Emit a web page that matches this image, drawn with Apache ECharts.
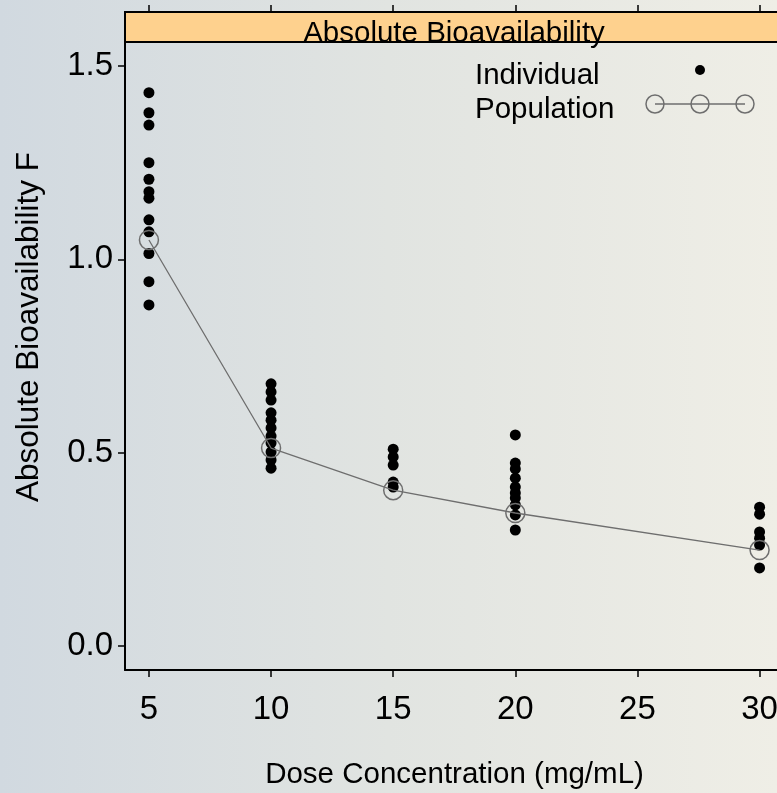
<!DOCTYPE html>
<html>
<head>
<meta charset="utf-8">
<script src="https://cdn.jsdelivr.net/npm/echarts@6/dist/echarts.min.js"></script>
<style>
  html, body { margin: 0; padding: 0; }
  #chart { width: 777px; height: 793px; }
</style>
</head>
<body>
<div id="chart"></div>
<script>
// dose levels (mg/mL) and the individual estimates
const doses = [5, 10, 15, 20, 30];
const indiv5 = [1.431, 1.379, 1.347, 1.250, 1.207, 1.175, 1.158, 1.102, 1.071, 1.015, 0.942, 0.882];
const indiv10 = [0.678, 0.657, 0.636, 0.603, 0.584, 0.564, 0.543, 0.525, 0.502, 0.481, 0.460];
const indiv15 = [0.509, 0.489, 0.468, 0.424, 0.411];
const indiv20 = [0.546, 0.473, 0.458, 0.434, 0.411, 0.396, 0.383, 0.365, 0.339, 0.300];
const indiv30 = [0.359, 0.341, 0.295, 0.279, 0.261, 0.202];
const population = [1.05, 0.512, 0.403, 0.344, 0.248];

const xTicks = [5, 10, 15, 20, 25, 30];
const yTicks = [0, 0.5, 1.0, 1.5];

const stripTitle = 'Absolute Bioavailability';
const font = 'Liberation Sans, Arial, sans-serif';
const grey = '#6e6e6e';

let individual = [];
[indiv5, indiv10, indiv15, indiv20, indiv30].forEach((arr, i)=> {
	arr.forEach(v=> individual.push([doses[i], v]));
});
let popData = doses.map((d, i)=> [d, population[i]]);

let chart = echarts.init(document.getElementById('chart'));

let option = {
	backgroundColor: new echarts.graphic.LinearGradient(0, 0, 1, 0, [
		{offset: 0, color: '#d1d9e0'},
		{offset: 0.5, color: '#e1e4e1'},
		{offset: 1, color: '#efeee6'}
	]),
	animation: false,
	grid: {
		left: 125,
		right: -7,
		top: 12,
		bottom: 123,
		containLabel: false,
		outerBoundsMode: 'none'
	},
	xAxis: [
		{
			type: 'value',
			position: 'bottom',
			min: 4.02,
			max: 31,
			name: 'Dose Concentration (mg/mL)',
			nameLocation: 'middle',
			nameGap: 90,
			nameTextStyle: {fontFamily: font, fontSize: 29.5, color: '#000'},
			axisLine: {show: true, onZero: false, lineStyle: {color: '#000', width: 2}},
			axisTick: {show: true, inside: false, length: 7, lineStyle: {color: '#000', width: 1.5}, customValues: xTicks},
			axisLabel: {fontFamily: font, fontSize: 33, color: '#000', margin: 23, customValues: xTicks},
			splitLine: {show: false}
		},
		{
			type: 'value',
			position: 'top',
			min: 4.02,
			max: 31,
			axisLine: {show: false, onZero: false},
			axisTick: {show: true, inside: false, length: 7, lineStyle: {color: '#000', width: 1.5}, customValues: xTicks},
			axisLabel: {show: false},
			splitLine: {show: false}
		}
	],
	yAxis: {
		type: 'value',
		min: -0.062,
		max: 1.6395,
		name: 'Absolute Bioavailability F',
		nameLocation: 'middle',
		nameRotate: 90,
		nameGap: 80,
		nameTextStyle: {fontFamily: font, fontSize: 31.5, color: '#000', padding: [0, 0, 0, 28]},
		axisLine: {show: true, onZero: false, lineStyle: {color: '#000', width: 2}},
		axisTick: {show: true, inside: false, length: 7, lineStyle: {color: '#000', width: 1.5}, customValues: yTicks},
		axisLabel: {
			fontFamily: font, fontSize: 33, color: '#000', margin: 12,
			customValues: yTicks,
			formatter: v=> v.toFixed(1)
		},
		splitLine: {show: false}
	},
	graphic: [
		{
			type: 'rect',
			shape: {x: 125, y: 12, width: 680, height: 30},
			style: {fill: '#fed18e', stroke: '#000', lineWidth: 2},
			z: 10
		},
		{
			type: 'text',
			x: 454,
			y: 49,
			style: {
				text: stripTitle, fontFamily: font, fontSize: 29.5, fill: '#000',
				textAlign: 'center', textVerticalAlign: 'bottom'
			},
			z: 11
		},
		{
			type: 'text', x: 475, y: 76,
			style: {text: 'Individual', fontFamily: font, fontSize: 29.5, fill: '#000', textVerticalAlign: 'middle'}
		},
		{
			type: 'text', x: 475, y: 110,
			style: {text: 'Population', fontFamily: font, fontSize: 29.5, fill: '#000', textVerticalAlign: 'middle'}
		},
		{
			type: 'circle', shape: {cx: 700, cy: 70, r: 5},
			style: {fill: '#000'}
		},
		{
			type: 'line', shape: {x1: 655, y1: 104, x2: 745, y2: 104},
			style: {stroke: grey, lineWidth: 1.3}
		},
		{type: 'circle', shape: {cx: 655, cy: 104, r: 9}, style: {fill: 'none', stroke: grey, lineWidth: 1.5}},
		{type: 'circle', shape: {cx: 700, cy: 104, r: 9}, style: {fill: 'none', stroke: grey, lineWidth: 1.5}},
		{type: 'circle', shape: {cx: 745, cy: 104, r: 9}, style: {fill: 'none', stroke: grey, lineWidth: 1.5}}
	],
	series: [
		{
			name: 'Individual',
			type: 'scatter',
			data: individual,
			symbol: 'circle',
			symbolSize: 11,
			itemStyle: {color: '#000', opacity: 1}
		},
		{
			name: 'Population',
			type: 'line',
			data: popData,
			symbol: 'circle',
			symbolSize: 19,
			lineStyle: {color: grey, width: 1.3},
			itemStyle: {color: 'rgba(0,0,0,0)', borderColor: grey, borderWidth: 1.5}
		}
	]
};

chart.setOption(option);
</script>
</body>
</html>
